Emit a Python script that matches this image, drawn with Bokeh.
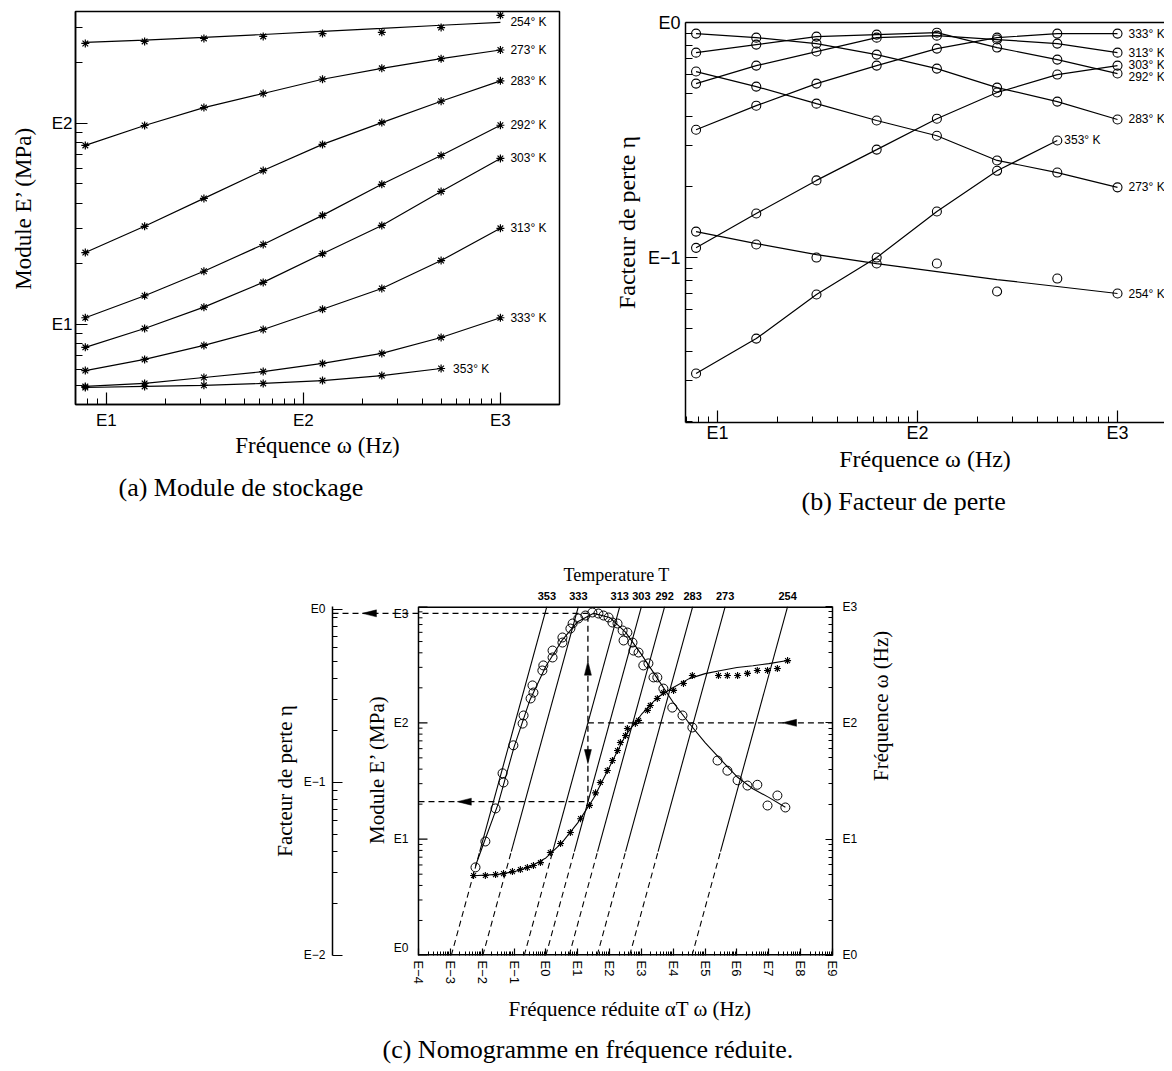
from math import log10, pi
from bokeh.plotting import figure
from bokeh.models import (LogAxis, FixedTicker, CustomJSTickFormatter, Range1d,
                          Title, ColumnDataSource, Label)
from bokeh.layouts import column, row
from bokeh.embed import file_html
from bokeh.resources import INLINE
from bokeh.core.properties import value

# ------------------------------------------------------------------ data
freq = [7.8125, 15.625, 31.25, 62.5, 125, 250, 500, 1000]       # Hz
temps = [254, 273, 283, 292, 303, 313, 333, 353]                   # K

# (a) storage modulus E' (MPa)
E_254 = [250, 256, 265, 271, 280, 284, 300, 345]
E_254_fit = [253, 260, 268, 277, 287, 297, 308, 318]
E_273 = [77.8, 97.7, 120, 141, 166, 188, 210, 232]
E_283 = [22.8, 30.8, 42.4, 58.3, 78.7, 101, 129, 163]
E_292 = [10.8, 13.9, 18.4, 25.0, 34.9, 49.8, 69.3, 98.0]
E_303 = [7.7, 9.55, 12.2, 16.2, 22.5, 31.1, 45.9, 67.0]
E_313 = [5.90, 6.70, 7.87, 9.44, 11.9, 15.1, 20.8, 30.1]
E_333 = [4.92, 5.09, 5.45, 5.83, 6.40, 7.18, 8.62, 10.8]
E_353 = [4.86, 4.92, 4.98, 5.09, 5.26, 5.57, 6.04]

# (b) loss factor eta
eta_254 = [0.129, 0.1136, 0.100, 0.0943, 0.0943, 0.0717, 0.0814, 0.0703]
eta_254_fit = [0.129, 0.1147, 0.103, 0.0943, 0.0872, 0.0806, 0.0753, 0.0703]
eta_273 = [0.619, 0.534, 0.452, 0.383, 0.330, 0.259, 0.230, 0.199]
eta_283 = [0.898, 0.863, 0.814, 0.731, 0.637, 0.529, 0.461, 0.387]
eta_292 = [0.745, 0.806, 0.872, 0.889, 0.906, 0.783, 0.696, 0.607]
eta_303 = [0.110, 0.154, 0.213, 0.288, 0.390, 0.504, 0.601, 0.656]
eta_313 = [0.550, 0.656, 0.753, 0.863, 0.880, 0.847, 0.814, 0.745]
eta_333 = [0.350, 0.443, 0.550, 0.656, 0.775, 0.863, 0.898, 0.898]
eta_353 = [0.0321, 0.0452, 0.0696, 0.100, 0.157, 0.234, 0.315]

# (c) nomogram: shift factors log10(alpha_T) and master curves
temps_c = [353, 333, 313, 303, 292, 283, 273, 254]
log_aT = [-2.97, -1.98, -0.68, 0.0, 0.73, 1.61, 2.63, 4.59]

logf_eta = [-2.21, -1.90, -1.58, -1.36, -1.33, -1.02, -0.73, -0.70, -0.48, -0.42,
            -0.39, -0.11, -0.08, 0.21, 0.21, 0.52, 0.52, 0.77, 0.84, 1.02,
            1.24, 1.46, 1.65, 1.81, 1.97, 2.09, 2.25, 2.41, 2.44, 2.56,
            2.72, 2.75, 2.91, 3.06, 3.22, 3.38, 3.50, 3.69, 3.97, 4.29,
            4.60, 5.39, 5.70, 6.02, 6.33, 6.64, 6.96, 7.27, 7.52]
eta_master = [0.0323, 0.0456, 0.0708, 0.113, 0.100, 0.164, 0.219, 0.244, 0.306, 0.364,
              0.331, 0.444, 0.475, 0.528, 0.579, 0.644, 0.689, 0.776, 0.830, 0.887,
              0.923, 0.961, 0.948, 0.923, 0.899, 0.841, 0.830, 0.756, 0.662, 0.736,
              0.644, 0.579, 0.564, 0.475, 0.488, 0.405, 0.405, 0.349, 0.271, 0.244,
              0.208, 0.134, 0.117, 0.103, 0.096, 0.097, 0.0736, 0.0841, 0.0717]
logf_eta_fit = [-2.21, -1.5, -1.0, -0.5, 0.0, 0.5, 1.0, 1.5, 2.0, 2.5,
                3.0, 3.5, 4.0, 4.5, 5.0, 5.5, 6.0, 6.5, 7.0, 7.52]
eta_fit = [0.033, 0.075, 0.16, 0.30, 0.47, 0.66, 0.85, 0.95, 0.90, 0.74,
           0.55, 0.40, 0.29, 0.22, 0.17, 0.135, 0.108, 0.092, 0.082, 0.072]

logf_E = [-2.27, -1.90, -1.58, -1.33, -1.05, -0.80, -0.58, -0.39, -0.17, 0.14,
          0.46, 0.77, 1.09, 1.37, 1.56, 1.71, 1.93, 2.09, 2.25, 2.34,
          2.50, 2.56, 2.81, 2.91, 3.19, 3.28, 3.50, 3.69, 4.01, 4.32,
          4.60, 5.42, 5.70, 6.02, 6.33, 6.64, 6.96, 7.27, 7.59]
E_master = [4.87, 4.87, 4.96, 5.06, 5.26, 5.48, 5.70, 5.93, 6.29, 7.67,
            9.17, 11.4, 15.0, 19.5, 25.0, 30.7, 38.9, 47.4, 57.8, 67.7,
            77.8, 89.4, 98.7, 105, 128, 141, 162, 182, 190, 218,
            255, 255, 255, 255, 266, 282, 282, 293, 343]
logf_E_fit = [-2.27, -1.5, -1.0, -0.5, 0.0, 0.5, 1.0, 1.5, 2.0, 2.5,
              3.0, 3.5, 4.0, 4.5, 5.0, 5.5, 6.0, 6.5, 7.0, 7.59]
E_fit = [4.85, 4.98, 5.25, 5.8, 6.9, 9.3, 13.8, 22.5, 42, 78,
         118, 165, 201, 240, 265, 282, 299, 310, 323, 343]

# worked example on the nomogram (T = 313 K, omega = 100 Hz)
read_T = 313
read_omega = 100.0
read_eta = 0.95
read_E = 21.0

# ------------------------------------------------------------------ styling helpers
SERIF = "Liberation Serif"
SANS = "Liberation Sans"


def minors(d0, d1):
    return [m * 10.0 ** d for d in range(d0, d1) for m in range(2, 10)]


def efmt():
    return CustomJSTickFormatter(code="""
const e = Math.round(Math.log10(tick));
return "E" + (e < 0 ? "\\u2212" + String(-e) : String(e));
""")


def style(ax, size, maj_in, min_in, standoff, title_size="20px"):
    ax.axis_line_color = "black"
    ax.axis_line_width = 1.5
    ax.major_tick_line_color = "black"
    ax.major_tick_line_width = 1.2
    ax.minor_tick_line_color = "black"
    ax.minor_tick_line_width = 1.0
    ax.major_tick_in = maj_in
    ax.major_tick_out = 0
    ax.minor_tick_in = min_in
    ax.minor_tick_out = 0
    ax.major_label_text_font = SANS
    ax.major_label_text_font_size = size
    ax.major_label_text_color = "black"
    ax.major_label_standoff = standoff
    ax.axis_label_text_font = SERIF
    ax.axis_label_text_font_style = "normal"
    ax.axis_label_text_color = "black"
    ax.axis_label_text_font_size = title_size


def mk_title(text, size, offset, standoff=None):
    t = Title(text=text, align="left", offset=offset, text_font=SERIF,
              text_font_size=size, text_font_style="normal", text_color="black")
    if standoff is not None and "standoff" in Title.properties():
        t.standoff = standoff
    return t


def base_fig(**kw):
    p = figure(output_backend="svg", toolbar_location=None, title=None,
               x_axis_type="log", y_axis_type="log", **kw)
    p.grid.grid_line_color = None
    p.background_fill_color = "white"
    p.border_fill_color = "white"
    return p


# ------------------------------------------------------------------ (a)
pa = base_fig(width=575, height=520,
              x_range=Range1d(10 ** 0.843, 10 ** 3.30),
              y_range=Range1d(10 ** 0.602, 10 ** 2.557),
              min_border_left=75, min_border_right=16, min_border_top=11,
              min_border_bottom=116)
pa.outline_line_color = "black"
pa.outline_line_width = 1.5
xa = pa.xaxis[0]
xa.ticker = FixedTicker(ticks=[10, 100, 1000], minor_ticks=minors(0, 4))
xa.formatter = efmt()
style(xa, "17px", 12, 6, 6, "23px")
xa.axis_label = "Fréquence ω (Hz)"
xa.axis_label_standoff = 0
ya = pa.yaxis[0]
ya.ticker = FixedTicker(ticks=[10, 100], minor_ticks=minors(0, 3))
ya.formatter = efmt()
style(ya, "17px", 12, 7, 3, "23px")
ya.axis_label = "Module E’ (MPa)"
ya.axis_label_standoff = 13

series_a = [(254, E_254, E_254_fit), (273, E_273, None), (283, E_283, None),
            (292, E_292, None), (303, E_303, None), (313, E_313, None),
            (333, E_333, None), (353, E_353, None)]
lab_a = dict(x=[], y=[], text=[], xo=[])
for t, pts, fit in series_a:
    f = freq[:len(pts)]
    ly = fit if fit is not None else pts
    pa.line(f, ly, line_color="black", line_width=1.2)
    pa.scatter(f, pts, marker="asterisk", size=8, line_color="black", line_width=1.2)
    lab_a["x"].append(f[-1])
    lab_a["y"].append(ly[-1])
    lab_a["text"].append(f"{t}° K")
    lab_a["xo"].append(12 if len(pts) < len(freq) else 10)
pa.text(x="x", y="y", text="text", x_offset="xo", source=ColumnDataSource(lab_a),
        text_font=value(SANS), text_font_size=value("12px"), text_baseline="middle",
        text_color="black")
pa.add_layout(mk_title("(a) Module de stockage", "26px", 43, 20), "below")

# ------------------------------------------------------------------ (b)
pb = base_fig(width=589, height=530,
              x_range=Range1d(10 ** 0.84, 10 ** 3.235),
              y_range=Range1d(10 ** -1.702, 1.001),
              min_border_left=110, min_border_right=0, min_border_top=22,
              min_border_bottom=108)
pb.outline_line_color = None
xb = pb.xaxis[0]
xb.ticker = FixedTicker(ticks=[10, 100, 1000], minor_ticks=minors(0, 4))
xb.formatter = efmt()
style(xb, "18px", 12, 6, 0, "24px")
xb.axis_label = "Fréquence ω (Hz)"
xb.axis_label_standoff = 0
yb = pb.yaxis[0]
yb.ticker = FixedTicker(ticks=[0.1, 1.0], minor_ticks=minors(-2, 0))
yb.formatter = efmt()
style(yb, "18px", 12, 7, 5, "24px")
yb.axis_label = "Facteur de perte η"
yb.axis_label_standoff = 5
topb = LogAxis(ticker=FixedTicker(ticks=[]), major_tick_line_color=None,
               minor_tick_line_color=None, major_label_text_font_size="0px",
               major_tick_out=0, minor_tick_out=0, major_label_standoff=0,
               axis_line_color="black", axis_line_width=1.5)
pb.add_layout(topb, "above")

series_b = [(333, eta_333, None, 0, 11), (313, eta_313, None, 0, 11),
            (303, eta_303, None, -1, 11), (292, eta_292, None, 3, 11),
            (283, eta_283, None, 0, 11), (273, eta_273, None, 0, 11),
            (353, eta_353, None, 0, 7), (254, eta_254, eta_254_fit, 0, 11)]
lab_b = dict(x=[], y=[], text=[], xo=[], yo=[])
for t, pts, fit, yo, xo in series_b:
    f = freq[:len(pts)]
    ly = fit if fit is not None else pts
    pb.line(f, ly, line_color="black", line_width=1.2)
    pb.scatter(f, pts, marker="circle", size=9, fill_color=None, line_color="black",
               line_width=1.1)
    lab_b["x"].append(f[-1])
    lab_b["y"].append(ly[-1])
    lab_b["text"].append(f"{t}° K")
    lab_b["xo"].append(xo)
    lab_b["yo"].append(yo)
pb.text(x="x", y="y", text="text", x_offset="xo", y_offset="yo",
        source=ColumnDataSource(lab_b), text_font=value(SANS),
        text_font_size=value("12px"), text_baseline="middle", text_color="black")
pb.add_layout(mk_title("(b) Facteur de perte", "26px", 116, 21), "below")

# ------------------------------------------------------------------ (c)
XL_LOG, XR = -6.70, 1.001e9
YB, YT = 0.9995, 1000.5
ETA_B, ETA_T = 0.009995, 10 ** (3 / 173)
FRAME_W, FRAME_H = 500, 349
DEC_X = FRAME_W / (log10(XR) - XL_LOG)
DEC_Y = FRAME_H / (log10(YT) - log10(YB))

pc = base_fig(width=1164, height=537, x_range=Range1d(10 ** XL_LOG, XR),
              y_range=Range1d(YB, YT), y_axis_location=None,
              min_border_left=332, min_border_right=332, min_border_top=76,
              min_border_bottom=112)
pc.outline_line_color = None
pc.extra_y_ranges = {"eta": Range1d(ETA_B, ETA_T)}


def xpx(x, d):
    return 10 ** (log10(x) + d / DEC_X)


def ypx(y, d):
    return 10 ** (log10(y) + d / DEC_Y)


def eta2main(v):
    t = (log10(v) - log10(ETA_B)) / (log10(ETA_T) - log10(ETA_B))
    return 10 ** (log10(YB) + t * (log10(YT) - log10(YB)))


xt_major = [10.0 ** k for k in range(-4, 10)]
XI, XE = xt_major[0], xt_major[-1]
wt_major = [1.0, 10.0, 100.0, 1000.0]

# bottom axis: reduced frequency
xc = pc.xaxis[0]
xc.ticker = FixedTicker(ticks=xt_major, minor_ticks=minors(-4, 9))
xc.formatter = efmt()
style(xc, "13px", 7, 4, 5)
xc.axis_line_color = None
xc.major_label_orientation = "vertical"

# outer left axis: loss factor
eta_ax = LogAxis(y_range_name="eta",
                 ticker=FixedTicker(ticks=[0.01, 0.1, 1.0], minor_ticks=minors(-2, 0)),
                 formatter=efmt(), axis_label="Facteur de perte η")
style(eta_ax, "12px", 10, 5, 7, "21px")
eta_ax.axis_label_standoff = 4
pc.add_layout(eta_ax, "left")

# right axis: frequency
w_ax = LogAxis(ticker=FixedTicker(ticks=wt_major, minor_ticks=minors(0, 3)),
               formatter=efmt(), axis_label="Fréquence ω (Hz)")
style(w_ax, "12px", 7, 4, 10, "21px")
w_ax.axis_label_standoff = 21
if "axis_label_orientation" in LogAxis.properties():
    try:
        w_ax.axis_label_orientation = pi / 2
    except Exception:
        pass
pc.add_layout(w_ax, "right")

# top axis: temperature labels at the top of each shift line
temp_fmt = CustomJSTickFormatter(
    args=dict(pos=[a + 3 for a in log_aT], labels=[str(t) for t in temps_c]),
    code="""
const lt = Math.log10(tick);
for (let i = 0; i < pos.length; i++) { if (Math.abs(pos[i] - lt) < 0.02) return labels[i]; }
return "";
""")
t_ax = LogAxis(ticker=FixedTicker(ticks=[10 ** (a + 3) for a in log_aT]),
               formatter=temp_fmt, axis_line_color=None, major_tick_line_color=None,
               minor_tick_line_color=None, major_tick_out=0, minor_tick_out=0,
               major_tick_in=0, minor_tick_in=0, major_label_standoff=7,
               major_label_text_font=SANS, major_label_text_font_size="11px",
               major_label_text_font_style="bold", major_label_text_color="black")
pc.add_layout(t_ax, "above")
pc.add_layout(mk_title("Temperature T", "18px", 231, 8), "above")

# titles below
pc.add_layout(mk_title("Fréquence réduite αT ω (Hz)", "21px", 176, 17), "below")
pc.add_layout(mk_title("(c) Nomogramme en fréquence réduite.", "26px", 50, 6), "below")

# inner left axis (modulus), drawn on the main scale
pc.line([XI, XE], [wt_major[-1]] * 2, line_color="black", line_width=3)
pc.line([XI, XE], [wt_major[0]] * 2, line_color="black", line_width=3)
pc.line([XI, XI], [wt_major[0], wt_major[-1]], line_color="black", line_width=1.5)
pc.segment(x0=[XI] * 4, y0=wt_major, x1=[xpx(XI, 9)] * 4, y1=wt_major,
           line_color="black", line_width=1.2)
mn = minors(0, 3)
pc.segment(x0=[XI] * len(mn), y0=mn, x1=[xpx(XI, 4)] * len(mn), y1=mn,
           line_color="black", line_width=1.0)
for i, w in enumerate(wt_major):
    base = "bottom" if i == 0 else ("top" if i == len(wt_major) - 1 else "middle")
    pc.add_layout(Label(x=xpx(XI, -10), y=w, text="E%d" % round(log10(w)),
                        text_align="right", text_baseline=base, text_font=SANS,
                        text_font_size="12px", text_color="black"))
pc.add_layout(Label(x=xpx(XI, -41), y=10 ** 1.6, text="Module E’ (MPa)", angle=pi / 2,
                    text_align="center", text_baseline="middle", text_font=SERIF,
                    text_font_size="21px", text_color="black"))

# shift lines: solid over the measured range, dashed below it
for a in log_aT:
    s = 10 ** a
    pc.line([s * freq[0], s * wt_major[-1]], [freq[0], wt_major[-1]],
            line_color="black", line_width=1.1)
    pc.line([s * wt_major[0], s * freq[0]], [wt_major[0], freq[0]],
            line_color="black", line_width=1.1, line_dash="6 4")

# master curves
pc.line([10 ** v for v in logf_eta_fit], eta_fit, y_range_name="eta",
        line_color="black", line_width=1.1)
pc.scatter([10 ** v for v in logf_eta], eta_master, y_range_name="eta",
           marker="circle", size=9, fill_color=None, line_color="black", line_width=1.0)
pc.line([10 ** v for v in logf_E_fit], E_fit, line_color="black", line_width=1.1)
pc.scatter([10 ** v for v in logf_E], E_master, marker="asterisk", size=7,
           line_color="black", line_width=1.1)

# worked-example guide lines
fr = 10 ** log_aT[temps_c.index(read_T)] * read_omega
dash = dict(line_color="black", line_width=1.3, line_dash="6 4")
pc.line([fr, XE], [read_omega] * 2, **dash)
pc.line([fr, fr], [read_E, eta2main(read_eta)], **dash)
pc.line([10 ** XL_LOG, fr], [read_eta] * 2, y_range_name="eta", **dash)
pc.line([XI, fr], [read_E] * 2, **dash)


def head(x, y, d, L=14, W=3.5):
    if d == "left":
        pts = [(0, 0), (L, W), (L, -W)]
    elif d == "up":
        pts = [(0, 0), (W, -L), (-W, -L)]
    else:
        pts = [(0, 0), (W, L), (-W, L)]
    return [xpx(x, dx) for dx, dy in pts], [ypx(y, dy) for dx, dy in pts]


heads = [head(10 ** 7.43, read_omega, "left"),
         head(10 ** -5.76, eta2main(read_eta), "left"),
         head(10 ** -2.78, read_E, "left"),
         head(fr, 10 ** 2.53, "up"),
         head(fr, 10 ** 1.65, "down")]
pc.patches([h[0] for h in heads], [h[1] for h in heads], fill_color="black",
           line_color="black", line_width=0.5)

# each top panel in its own column so the two plot frames keep their own borders
layout = column(row(column(pa), column(pb)), pc)
with open("out.html", "w", encoding="utf-8") as fh:
    fh.write(file_html(layout, INLINE))
